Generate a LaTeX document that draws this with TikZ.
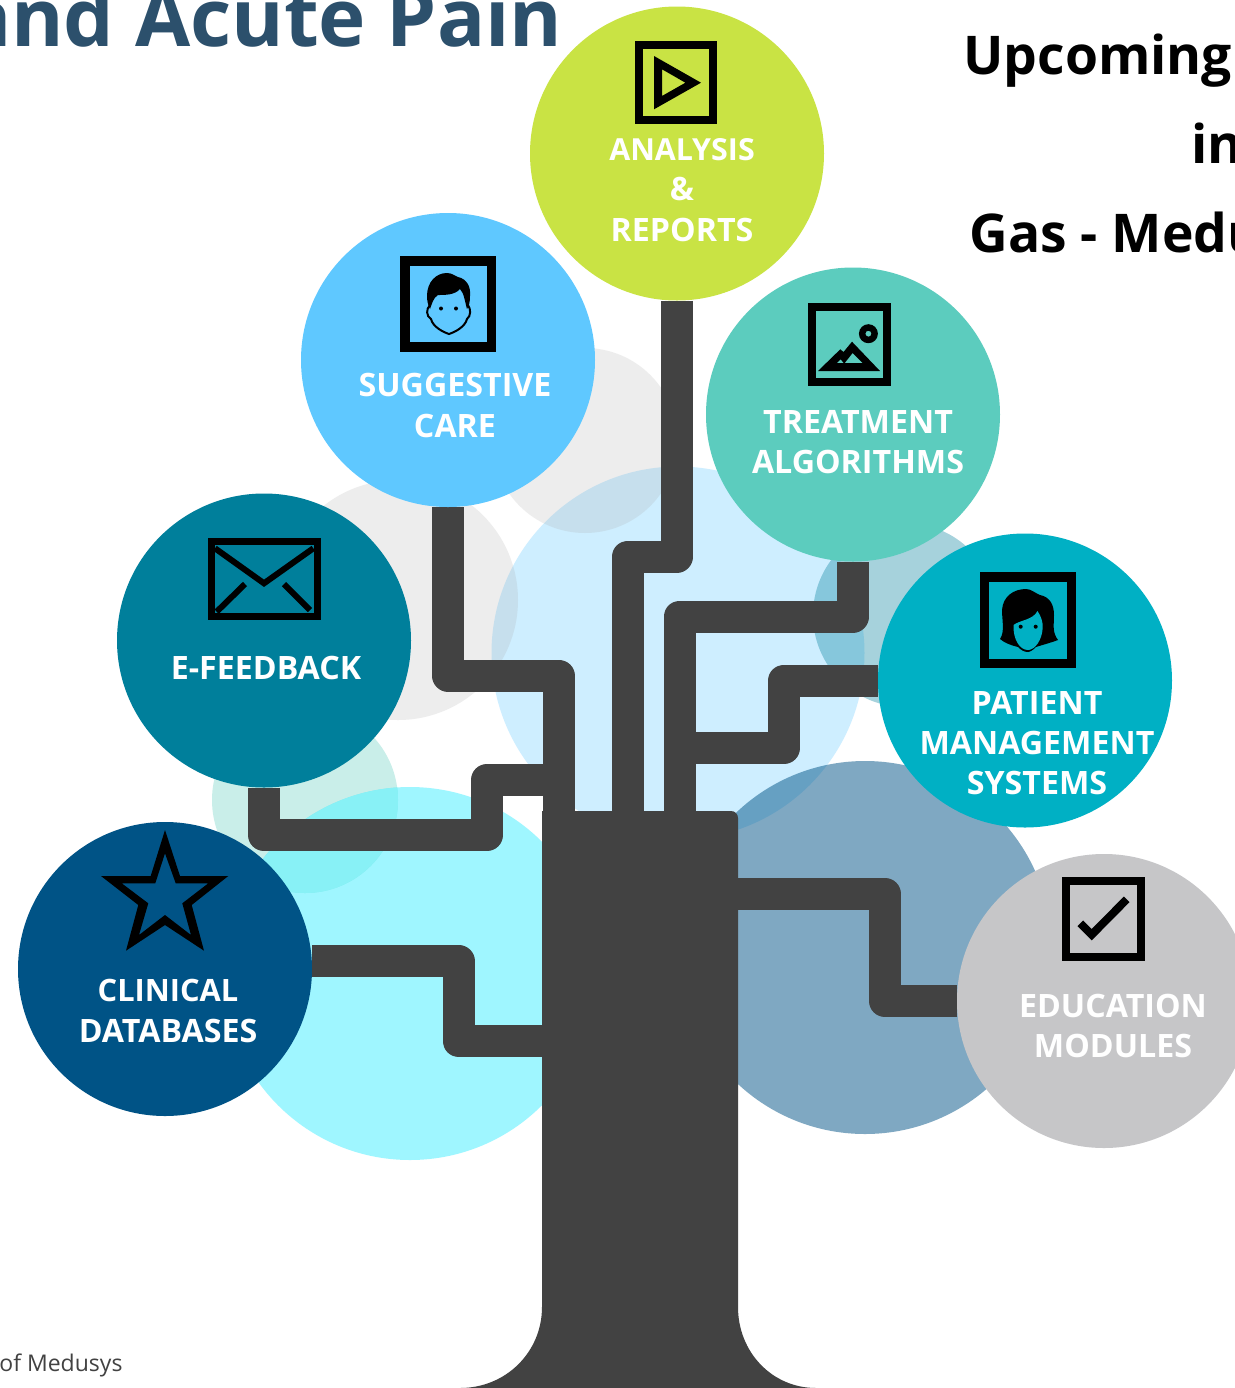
\documentclass[tikz,border=0pt]{standalone}
\usepackage{fontspec}
\setmainfont{Open Sans}
\pgfdeclarelayer{bg}\pgfdeclarelayer{limbs}
\pgfsetlayers{bg,limbs,main}
\definecolor{trunkc}{HTML}{424242}
\definecolor{cana}{HTML}{C9E344}
\definecolor{csug}{HTML}{5FC8FF}
\definecolor{ctre}{HTML}{5CCCBE}
\definecolor{cpat}{HTML}{00B0C4}
\definecolor{cfee}{HTML}{007F9B}
\definecolor{ccli}{HTML}{005386}
\definecolor{cedu}{HTML}{C6C6C8}
\definecolor{ctitle}{HTML}{2C506C}
\definecolor{cmixed}{HTML}{88F1F6}
\tikzset{
  disc/.style={circle,draw=none,fill=#1,minimum size=147pt,inner sep=0pt},
  limb/.style={draw=trunkc,line width=16pt,line join=round,line cap=butt},
  lab/.style={text=white,align=center,inner sep=0pt,font=\fontsize{16.1pt}{20.1pt}\selectfont\bfseries},
  hdr/.style={inner sep=0pt,anchor=base west,font=\fontsize{26.7pt}{30pt}\selectfont\bfseries,text=black},
  frame/.style={draw=black,line width=4pt,fill=none,line join=miter},
}
\begin{document}
\begin{tikzpicture}[x=0.5pt,y=-0.5pt]
\useasboundingbox (0,0) rectangle (1235,1388);

% pale background circles
\begin{pgfonlayer}{bg}
  \fill[fill=white] (0,0) rectangle (1235,1388);
  \fill[fill=csug,opacity=.3] (678,653) circle[radius=186.5];
  \fill[fill=black!35,opacity=.2] (585,440.5) circle[radius=92.5];
  \fill[fill=black!35,opacity=.2] (398,600) circle[radius=120];
  \fill[fill=cfee,opacity=.35] (905,615) circle[radius=92];
  \fill[fill=ccli,opacity=.5] (865,947.5) circle[radius=186.5];
  \fill[fill=ctre,opacity=.33] (305,800) circle[radius=93];
  \fill[fill={rgb,255:red,0;green,233;blue,255},opacity=.376] (410,973.5) circle[radius=186.5];
  \begin{scope}
    \clip (410,973.5) circle[radius=186.5];
    \fill[fill=cmixed] (305,800) circle[radius=93];
  \end{scope}
\end{pgfonlayer}

% discs
\node[disc=cana] (ana) at (677,153.5) {};
\node[disc=csug] (sug) at (448,360) {};
\node[disc=ctre] (tre) at (853,414.5) {};
\node[disc=cpat] (pat) at (1025,680.5) {};
\node[disc=cfee] (fee) at (264,640.5) {};
\node[disc=ccli] (cli) at (165,969) {};
\node[disc=cedu] (edu) at (1104,1001) {};

% trunk and limbs
\begin{pgfonlayer}{limbs}
  \fill[fill=trunkc] (542,811) -- (731,811) .. controls (735,811) and (738,814) .. (738,818) -- (738,1307)
     .. controls (738,1352) and (772,1388) .. (816,1388) -- (460,1388)
     .. controls (506,1388) and (542,1352) .. (542,1307) -- cycle;
  \coordinate (tA) at (628,815);
  \coordinate (tS) at (558.5,815);
  \coordinate (tT) at (679.5,815);
  \coordinate (tE) at (558.5,780);
  \coordinate (tP) at (679.5,748);
  \coordinate (tC) at (545,1041);
  \coordinate (tD) at (735,894);
  \draw[limb] (ana.south) -- (677,556.5) -- (628,556.5) -- (tA);
  \draw[limb] (sug.south) -- (448,675.5) -- (558.5,675.5) -- (tS);
  \draw[limb] (tre.south) -- (853,616.5) -- (679.5,616.5) -- (tT);
  \draw[limb] (pat.west) -- (784,680.5) -- (784,748) -- (tP);
  \draw[limb] (fee.south) -- (264,835) -- (487,835) -- (487,780) -- (tE);
  \draw[limb] (cli.east) ++(0,-8) -- (458.5,961) -- (458.5,1041) -- (tC);
  \draw[limb] (edu.west) -- (885,1001) -- (885,894) -- (tD);
\end{pgfonlayer}

% headings
\node[inner sep=0pt,anchor=base east,text=ctitle,font=\fontsize{40pt}{44pt}\selectfont\bfseries] (title) at (563,46) {and Acute Pain};
\node[hdr] (h1) at (963,74) {Upcoming};
\node[hdr] (h2) at (1191,163) {in};
\node[hdr] (h3) at (969,252) {Gas - Medu};
\node[inner sep=0pt,anchor=base west,text=trunkc,font=\fontsize{11.5pt}{13pt}\selectfont] (foot) at (-1,1371) {of Medusys};

% labels
\node[lab] (lana) at (682,190) {{\fontsize{15.2pt}{20.1pt}\selectfont ANALYSIS}\\\&\\REPORTS};
\node[lab] (lsug) at (455,405.5) {SUGGESTIVE\\CARE};
\node[lab] (ltre) at (858,442.5) {TREATMENT\\ALGORITHMS};
\node[lab] (lpat) at (1037,743) {PATIENT\\MANAGEMENT\\SYSTEMS};
\node[lab] (lfee) at (266,668) {E-FEEDBACK};
\node[lab] (lcli) at (168,1011) {{\fontsize{15.4pt}{20.1pt}\selectfont CLINICAL}\\DATABASES};
\node[lab] (ledu) at (1113,1026) {EDUCATION\\MODULES};

% icon: play
\draw[frame] (639,45) rectangle (713,120);
\fill[black,even odd rule] (654,56) -- (701,82.7) -- (654,109.3) -- cycle
   (662,69.3) -- (685.4,82.7) -- (662,96) -- cycle;

% icon: man
\draw[draw=black,line width=4.75pt] (405.2,260.8) rectangle (491.6,347);
\draw[black,line width=1pt] (430,305) .. controls (426,309) and (426,316) .. (431,319)
   .. controls (433,327) and (443,332) .. (449,334)
   .. controls (455,332) and (465,327) .. (467,319)
   .. controls (471,316) and (471,309) .. (468,305);
\fill[black] (427,296) .. controls (427,282) and (436,273) .. (447,273)
   .. controls (452,273) and (455,276) .. (458,277)
   .. controls (467,279) and (471,287) .. (470,296)
   .. controls (470,302) and (469,306) .. (467,309)
   .. controls (465,302) and (464,293) .. (460,289)
   .. controls (455,295) and (445,295) .. (438,295)
   .. controls (433,298) and (432,304) .. (430,309)
   .. controls (428,305) and (427,301) .. (427,296) -- cycle;
\fill[black] (441,308.5) circle[radius=2] (456,308.5) circle[radius=2];

% icon: landscape
\draw[frame] (812,307) rectangle (886.5,381.7);
\fill[black,even odd rule] (868.4,333.7) circle[radius=9.5] (868.4,333.7) circle[radius=3];
\fill[black,even odd rule] (818,371) -- (840.3,349.3) -- (843.5,352) -- (852,341.7) -- (880,371) -- cycle
   (844.7,363) -- (852.6,353) -- (862.5,363) -- cycle
   (836.8,363) -- (840.7,359.3) -- (843.7,363) -- cycle;

% icon: woman
\draw[draw=black,line width=4.75pt] (984.7,577) rectangle (1071.6,663.6);
\fill[black] (1000,639) .. controls (1005,632) and (1002,620) .. (1002,610)
   .. controls (1003,596) and (1014,589) .. (1026,589)
   .. controls (1031,589) and (1035,593) .. (1040,595)
   .. controls (1050,597) and (1054,605) .. (1054,615)
   .. controls (1054,625) and (1052,632) .. (1058,640)
   .. controls (1050,643) and (1042,645) .. (1036,647)
   .. controls (1033,650) and (1030,652) .. (1028,652)
   .. controls (1024,652) and (1021,650) .. (1018,647)
   .. controls (1010,645) and (1005,643) .. (1000,639) -- cycle;
\fill[cpat] (1013.5,625) .. controls (1020,620) and (1033,620) .. (1037.5,611)
   .. controls (1041,616) and (1043,622) .. (1042.7,628)
   .. controls (1042,640) and (1035,650) .. (1028,650)
   .. controls (1020,650) and (1013,640) .. (1013.5,625) -- cycle;
\fill[black] (1020.7,626.7) circle[radius=2] (1035.7,626.7) circle[radius=2];

% icon: check
\draw[frame] (1066,881) rectangle (1141,956.7);
\draw[black,line width=4pt,line join=miter] (1080.3,923.3) -- (1091.7,934.7) -- (1126.7,899.3);

% icon: envelope
\draw[draw=black,line width=3.5pt] (211.5,541.8) rectangle (317.2,616.5);
\draw[black,line width=3pt,line join=miter] (215,548.3) -- (264,583.3) -- (313.3,548.3);
\draw[black,line width=3pt] (245,584) -- (216.7,611.7);
\draw[black,line width=3pt] (284,584) -- (310,610);

% icon: star
\fill[black,even odd rule] (165,830) -- (180,876) -- (228.3,876) -- (191.7,905) -- (204,950.7) -- (165,925) -- (126,950.7) -- (138.3,905) -- (101,876) -- (150.7,876) -- cycle
  (165,853.3) -- (175.7,883.3) -- (208.3,883.3) -- (182.3,903.3) -- (191,935) -- (165,915) -- (139,935) -- (148.3,903.3) -- (121.7,883.3) -- (155.3,883.3) -- cycle;
\end{tikzpicture}
\end{document}
